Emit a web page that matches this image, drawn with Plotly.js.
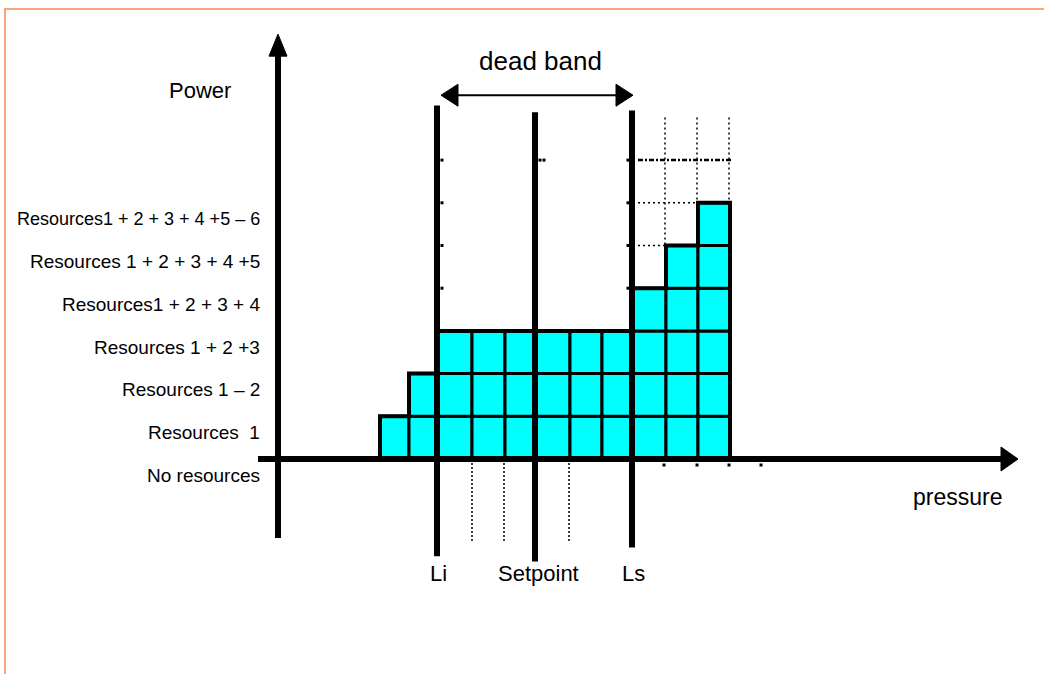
<!DOCTYPE html>
<html><head><meta charset="utf-8">
<script src="https://cdn.plot.ly/plotly-3.0.1.min.js"></script>
<style>html,body{margin:0;padding:0;background:#fff;} #chart{width:1044px;height:674px;}</style>
</head><body><div id="chart"></div>
<script>
// ---- data (pressure measured from the Power axis; power in resource levels) ----
const colEdges   = [102,131,159,194,227,257,292,324,355,388,420,452];
const colHeights = [1,2,3,3,3,3,3,3,4,5,6];
const levelValues = [0,1,2,3,4,5,6];
const levelLabels = [
  'No resources',
  'Resources  1',
  'Resources 1 \u2013 2',
  'Resources 1 + 2 +3',
  'Resources1 + 2 + 3 + 4',
  'Resources 1 + 2 + 3 + 4 +5',
  'Resources1 + 2 + 3 + 4 +5 \u2013 6'
];
const thresholdNames  = ['Li','Setpoint','Ls'];
const thresholdX      = [159,257,354];
const thresholdTop    = [8.28,8.12,8.16];
const thresholdBottom = [-2.28,-2.40,-2.07];
const lowerGuideX   = [194,226,291];
const lowerGuideEnd = -1.97;
const upperGuideX      = [387,419,451];
const upperGuideBottom = [5,6,6];
const upperGuideTop    = 8.0;
const hGuideLevels = [7,6,5];
const hGuideEnd    = [455,419,387];
const hGuideStart  = 360;
const axisDotsX = [386,419,451,483];
const deadBand = [163,355];
const deadBandLevel = 8.52;
const xAxisSpan = [-20,740];
const yAxisSpan = [-1.85,9.95];

// ---- scale ----
const W = 1044, H = 674, X0 = 278, Y0 = 459, PXY = 42.7;
const xRange = [-X0, W - X0];
const yRange = [-(H - Y0)/PXY, Y0/PXY];
const py = p => p / PXY; // pixels -> levels

const traces = [];
// cells
const cx = [], cb = [], cw = [], cy = [];
colHeights.forEach((h, i) => {
  for (let k = 0; k < h; k++) {
    cx.push((colEdges[i] + colEdges[i+1]) / 2);
    cw.push(colEdges[i+1] - colEdges[i]);
    cb.push(k); cy.push(1);
  }
});
traces.push({type:'bar', x:cx, y:cy, base:cb, width:cw,
  marker:{color:'#00ffff', line:{color:'#000', width:3}}, hoverinfo:'skip'});
// staircase outline
const sx = [colEdges[0]], sy = [0];
colHeights.forEach((h, i) => { sx.push(colEdges[i], colEdges[i+1]); sy.push(h, h); });
sx.push(colEdges[colEdges.length-1]); sy.push(0);
traces.push({type:'scatter', mode:'lines', x:sx, y:sy, line:{color:'#000', width:4}, hoverinfo:'skip'});

const line = (x, y, w, dash) => traces.push({type:'scatter', mode:'lines', x, y,
  line:{color:'#000', width:w, dash:dash||'solid'}, hoverinfo:'skip'});

// guide dotted lines
lowerGuideX.forEach(x => line([x,x],[-py(4), lowerGuideEnd], 1.5, '2px,2px'));
upperGuideX.forEach((x,i) => line([x,x],[upperGuideTop, upperGuideBottom[i]], 1.5, '2px,3px'));
hGuideLevels.forEach((l,i) => line([hGuideStart, hGuideEnd[i]],[l,l], i===0?2.5:1.5, i===0?'5px,2px,2px,2px':'2px,3px'));
// axes
line(xAxisSpan.slice().map((v,i)=> i===1? v-14 : v), [0,0], 6);
line([0,0], [yAxisSpan[0], yAxisSpan[1]-py(16)], 6);
// thresholds
thresholdX.forEach((x,i) => line([x,x],[thresholdBottom[i], thresholdTop[i]], 6));
// dead band line
line([deadBand[0]+12, deadBand[1]-12], [deadBandLevel, deadBandLevel], 2);
// small tick marks
traces.push({type:'scatter', mode:'markers',
  x:[164,164,164,164,350,350,350,350,262,266].concat(axisDotsX),
  y:[4,5,6,7,4,5,6,7,7,7].concat(axisDotsX.map(()=>-py(6))),
  marker:{symbol:'square', size:3, color:'#000'}, hoverinfo:'skip'});

// arrowheads
const tri = (pts) => ({type:'path', xref:'x', yref:'y', fillcolor:'#000', line:{color:'#000', width:1},
  path:'M' + pts.map(p => p[0] + ',' + p[1]).join(' L') + ' Z'});
const shapes = [
  tri([[xAxisSpan[1],0],[xAxisSpan[1]-17,py(12)],[xAxisSpan[1]-17,-py(12)]]),
  tri([[0,yAxisSpan[1]],[-9,yAxisSpan[1]-py(22)],[9,yAxisSpan[1]-py(22)]]),
  tri([[deadBand[0],deadBandLevel],[deadBand[0]+17,deadBandLevel+py(11)],[deadBand[0]+17,deadBandLevel-py(11)]]),
  tri([[deadBand[1],deadBandLevel],[deadBand[1]-17,deadBandLevel+py(11)],[deadBand[1]-17,deadBandLevel-py(11)]]),
  {type:'line', xref:'paper', yref:'paper', x0:4/W, x1:1, y0:1-9/H, y1:1-9/H, line:{color:'#f5a67c', width:2}},
  {type:'line', xref:'paper', yref:'paper', x0:5/W, x1:5/W, y0:0, y1:1-9/H, line:{color:'#f5a67c', width:2}}
];

const font = (s) => ({family:'Liberation Sans, Arial, sans-serif', size:s, color:'#000'});
const annotations = [];
levelLabels.forEach((t,i) => annotations.push({x:-16, y: levelValues[i] === 0 ? -0.38 : levelValues[i] - 0.38,
  text:t, showarrow:false, xanchor:'right', yanchor:'middle', font:font(i === 6 ? 18 : 19)}));
thresholdNames.forEach((t,i) => annotations.push({x:thresholdX[i] + (i===1?3:1), y:-2.68, text:t,
  showarrow:false, xanchor:'center', yanchor:'middle', font:font(22)}));
annotations.push({x:(deadBand[0]+deadBand[1])/2 + 3, y:9.33, text:'dead band', showarrow:false, font:font(26)});
annotations.push({x:-78, y:8.63, text:'Power', showarrow:false, font:font(22)});
annotations.push({x:679, y:-0.88, text:'pressure', showarrow:false, font:font(23)});

Plotly.newPlot('chart', traces, {
  width:W, height:H, margin:{l:0,r:0,t:0,b:0}, showlegend:false,
  paper_bgcolor:'#fff', plot_bgcolor:'#fff', barmode:'overlay', hovermode:false,
  xaxis:{range:xRange, visible:false, fixedrange:true},
  yaxis:{range:yRange, visible:false, fixedrange:true},
  shapes, annotations
}, {staticPlot:true});
</script></body></html>
